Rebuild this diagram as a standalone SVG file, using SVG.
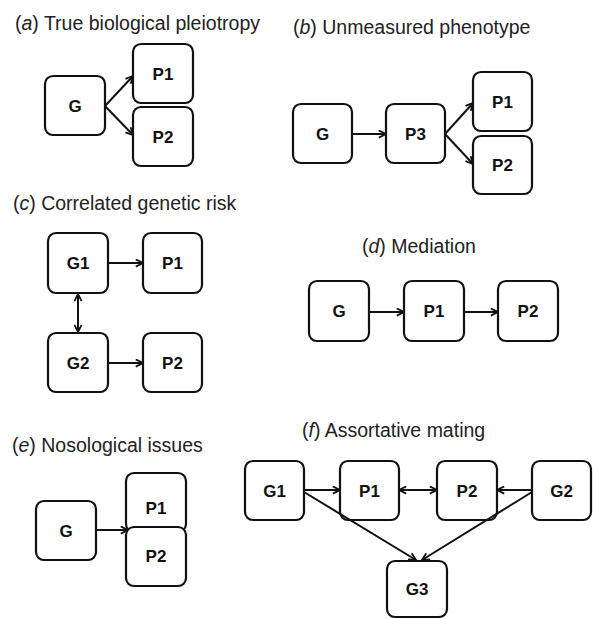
<svg xmlns="http://www.w3.org/2000/svg" width="593" height="619" viewBox="0 0 593 619">
<style>
.t{font-family:"Liberation Sans",Arial,sans-serif;font-size:19.5px;fill:#222}
.i{font-style:italic}
.b{fill:#fff;stroke:#111;stroke-width:2.2}
.l{font-family:"Liberation Sans",Arial,sans-serif;font-size:17px;font-weight:bold;fill:#111;text-anchor:middle}
.c{stroke:#111;stroke-width:2;fill:none;marker-end:url(#ah)}
.d{marker-start:url(#ah)}
</style>
<defs>
<marker id="ah" viewBox="0 0 10 10" refX="9" refY="5" markerWidth="9" markerHeight="9" markerUnits="userSpaceOnUse" orient="auto-start-reverse">
<path d="M1,1 L9,5 L1,9" fill="none" stroke="#111" stroke-width="2"/>
</marker>
</defs>
<rect width="593" height="619" fill="#fff"/>
<g id="titles">
<text class="t" x="15" y="29.5">(<tspan class="i">a</tspan>) True biological pleiotropy</text>
<text class="t" x="293" y="33.5">(<tspan class="i">b</tspan>) Unmeasured phenotype</text>
<text class="t" x="13" y="210">(<tspan class="i">c</tspan>) Correlated genetic risk</text>
<text class="t" x="362" y="253">(<tspan class="i">d</tspan>) Mediation</text>
<text class="t" x="12" y="452">(<tspan class="i">e</tspan>) Nosological issues</text>
<text class="t" x="302" y="437">(<tspan class="i">f</tspan>) Assortative mating</text>
</g>
<g id="connectors">
<line class="c" x1="105" y1="106" x2="133" y2="76"/>
<line class="c" x1="105" y1="106" x2="133" y2="135"/>
<line class="c" x1="352" y1="134" x2="386" y2="134"/>
<line class="c" x1="445" y1="134" x2="473" y2="103"/>
<line class="c" x1="445" y1="134" x2="473" y2="164"/>
<line class="c" x1="108" y1="263" x2="143" y2="263"/>
<line class="c" x1="108" y1="363" x2="143" y2="363"/>
<line class="c d" x1="78" y1="294" x2="78" y2="332"/>
<line class="c" x1="369" y1="312" x2="404" y2="312"/>
<line class="c" x1="464" y1="312" x2="498" y2="312"/>
<line class="c" x1="96" y1="530" x2="128" y2="530"/>
<line class="c" x1="304" y1="490" x2="340" y2="490"/>
<line class="c d" x1="399" y1="490" x2="437" y2="490"/>
<line class="c" x1="532" y1="490" x2="497" y2="490"/>
</g>
<g id="a-G"><rect class="b" x="45" y="76" width="60" height="59" rx="8"/><text class="l" x="75" y="111.5">G</text></g>
<g id="a-P1"><rect class="b" x="133" y="44" width="60" height="59" rx="8"/><text class="l" x="163" y="79.5">P1</text></g>
<g id="a-P2"><rect class="b" x="133" y="107" width="60" height="59" rx="8"/><text class="l" x="163" y="142.5">P2</text></g>
<g id="b-G"><rect class="b" x="293" y="104" width="59" height="59" rx="8"/><text class="l" x="322.5" y="139.5">G</text></g>
<g id="b-P3"><rect class="b" x="386" y="104" width="59" height="59" rx="8"/><text class="l" x="415.5" y="139.5">P3</text></g>
<g id="b-P1"><rect class="b" x="473" y="72" width="59" height="59" rx="8"/><text class="l" x="502.5" y="107.5">P1</text></g>
<g id="b-P2"><rect class="b" x="473" y="136" width="59" height="58" rx="8"/><text class="l" x="502.5" y="171">P2</text></g>
<g id="c-G1"><rect class="b" x="48" y="233" width="60" height="60" rx="8"/><text class="l" x="78" y="269">G1</text></g>
<g id="c-P1"><rect class="b" x="143" y="233" width="59" height="60" rx="8"/><text class="l" x="172.5" y="269">P1</text></g>
<g id="c-G2"><rect class="b" x="48" y="333" width="60" height="59" rx="8"/><text class="l" x="78" y="368.5">G2</text></g>
<g id="c-P2"><rect class="b" x="143" y="333" width="59" height="59" rx="8"/><text class="l" x="172.5" y="368.5">P2</text></g>
<g id="d-G"><rect class="b" x="309" y="281" width="60" height="60" rx="8"/><text class="l" x="339" y="317">G</text></g>
<g id="d-P1"><rect class="b" x="404" y="281" width="60" height="60" rx="8"/><text class="l" x="434" y="317">P1</text></g>
<g id="d-P2"><rect class="b" x="498" y="281" width="60" height="60" rx="8"/><text class="l" x="528" y="317">P2</text></g>
<g id="e-G"><rect class="b" x="36" y="501" width="60" height="59" rx="8"/><text class="l" x="66" y="536.5">G</text></g>
<g id="e-P1"><rect class="b" x="126" y="473" width="60" height="59" rx="8"/><text class="l" x="156" y="514">P1</text></g>
<g id="e-P2"><rect class="b" x="126" y="527" width="60" height="59" rx="8"/><text class="l" x="156" y="562">P2</text></g>
<g id="f-G1"><rect class="b" x="245" y="461" width="59" height="59" rx="8"/><text class="l" x="274.5" y="496.5">G1</text></g>
<g id="f-P1"><rect class="b" x="340" y="461" width="59" height="59" rx="8"/><text class="l" x="369.5" y="496.5">P1</text></g>
<g id="f-P2"><rect class="b" x="437" y="461" width="60" height="59" rx="8"/><text class="l" x="467" y="496.5">P2</text></g>
<g id="f-G2"><rect class="b" x="532" y="461" width="59" height="59" rx="8"/><text class="l" x="561.5" y="496.5">G2</text></g>
<g id="f-G3"><rect class="b" x="387" y="561" width="60" height="56" rx="8"/><text class="l" x="417" y="595">G3</text></g>
<g id="connectors-over">
<line class="c" x1="304" y1="492" x2="416" y2="560"/>
<line class="c" x1="532" y1="492" x2="422" y2="560"/>
</g>
</svg>
